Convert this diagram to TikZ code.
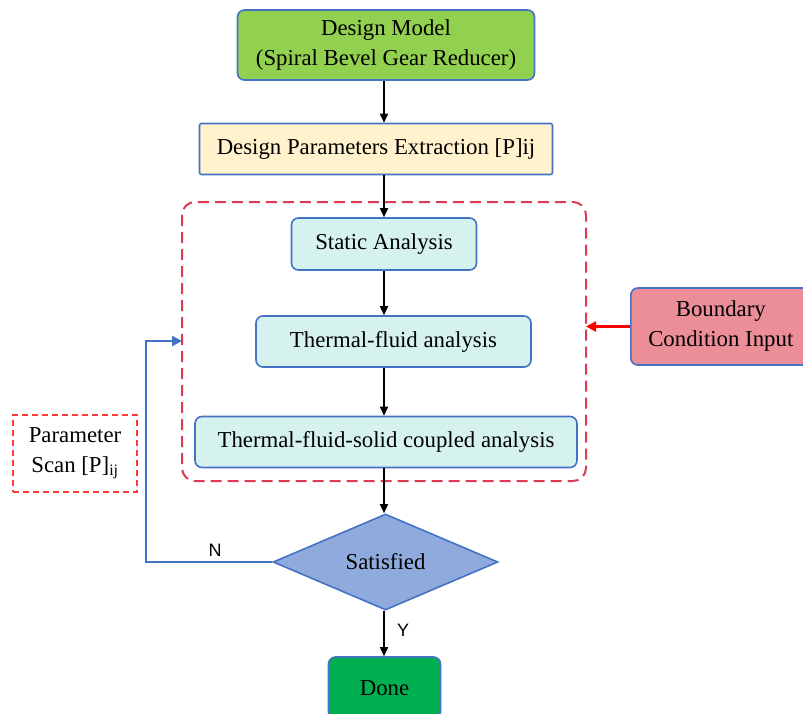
\documentclass[tikz,border=0pt]{standalone}
\usepackage{fontspec}
\setmainfont{Liberation Serif}
\newfontfamily\labelfont{Liberation Sans}
\usetikzlibrary{arrows.meta,shapes.geometric}

\definecolor{edgeblue}{HTML}{4472C4}
\definecolor{modelgreen}{HTML}{92D050}
\definecolor{paramfill}{HTML}{FFF2CC}
\definecolor{stagefill}{HTML}{D6F2EF}
\definecolor{bcfill}{HTML}{EC8E97}
\definecolor{decfill}{HTML}{8FAADC}
\definecolor{donegreen}{HTML}{00B050}
\definecolor{groupred}{HTML}{DC3C52}
\definecolor{scanred}{HTML}{FF3838}

\tikzset{
  box/.style={draw=edgeblue, line width=1.6pt, rounded corners=7pt, align=center,
              inner sep=0pt, font=\fontsize{22.8}{30}\selectfont, text=black},
  flow/.style={draw=black, line width=1.6pt, -{Triangle[length=9pt,width=8pt]}},
  tag/.style={font=\labelfont\fontsize{18}{20}\selectfont, inner sep=0pt, text=black}
}

\begin{document}
\begin{tikzpicture}[x=1pt,y=-1pt]
\useasboundingbox (0,0) rectangle (803,713);

% dashed group around the three analysis stages
\draw[groupred, line width=2pt, dash pattern=on 11pt off 6pt, rounded corners=13pt]
  (182,202) rectangle (586,481);

% main column
\node[box, fill=modelgreen, minimum width=297pt, minimum height=70pt] (model) at (386,45)
  {Design Model\\(Spiral Bevel Gear Reducer)};
\node[box, fill=paramfill, rounded corners=2pt, minimum width=353pt, minimum height=51pt] (param) at (376,149)
  {Design Parameters Extraction [P]ij};
\node[box, fill=stagefill, minimum width=185pt, minimum height=52pt] (static) at (384,244)
  {Static Analysis};
\node[box, fill=stagefill, minimum width=275pt, minimum height=51pt] (thermal) at (393.5,341.5)
  {Thermal-fluid analysis};
\node[box, fill=stagefill, minimum width=382pt, minimum height=51pt] (coupled) at (386,442)
  {Thermal-fluid-solid coupled analysis};
\node[diamond, draw=edgeblue, fill=decfill, line width=1.6pt, inner sep=0pt,
      minimum width=225pt, minimum height=92pt, font=\fontsize{22.8}{30}\selectfont, text=black]
  (check) at (385.5,562) {Satisfied};
\node[box, fill=donegreen, minimum width=112pt, minimum height=62pt] (done) at (384.5,688)
  {Done};

% side inputs
\node[box, fill=bcfill, minimum width=180pt, minimum height=77pt, anchor=west] (bc) at (630,326.5)
  {Boundary\\Condition Input};
\node[draw=scanred, line width=1.8pt, dash pattern=on 6pt off 4pt, minimum width=124pt,
      minimum height=77pt, align=center, inner sep=0pt, font=\fontsize{22.8}{30}\selectfont, text=black]
  (scan) at (75,453.5) {Parameter\\Scan [P]\textsubscript{ij}};

\coordinate (groupE) at (586,326.5);
\coordinate (groupW) at (182,341);
\coordinate (loopcorner) at (146,562);

% connectors
\draw[flow] (model.south -| static) -- (param.north -| static);
\draw[flow] (param.south -| static) -- (static.north);
\draw[flow] (static) -- (static |- thermal.north);
\draw[flow] (thermal.south -| static) -- (static |- coupled.north);
\draw[flow] (coupled.south -| static) -- (check.north -| static);
\draw[flow] (check.south -| static) -- (done.north -| static);

\draw[red, line width=2.8pt, -{Triangle[length=10pt,width=10pt]}] (bc.west) -- (groupE);
\draw[edgeblue, line width=2.8pt, -{Triangle[length=10pt,width=10pt]}]
  (check.west) -- (loopcorner) |- (groupW);

\node[tag] (nlab) at (215,550) {N};
\node[tag] (ylab) at (403,630) {Y};
\end{tikzpicture}
\end{document}
